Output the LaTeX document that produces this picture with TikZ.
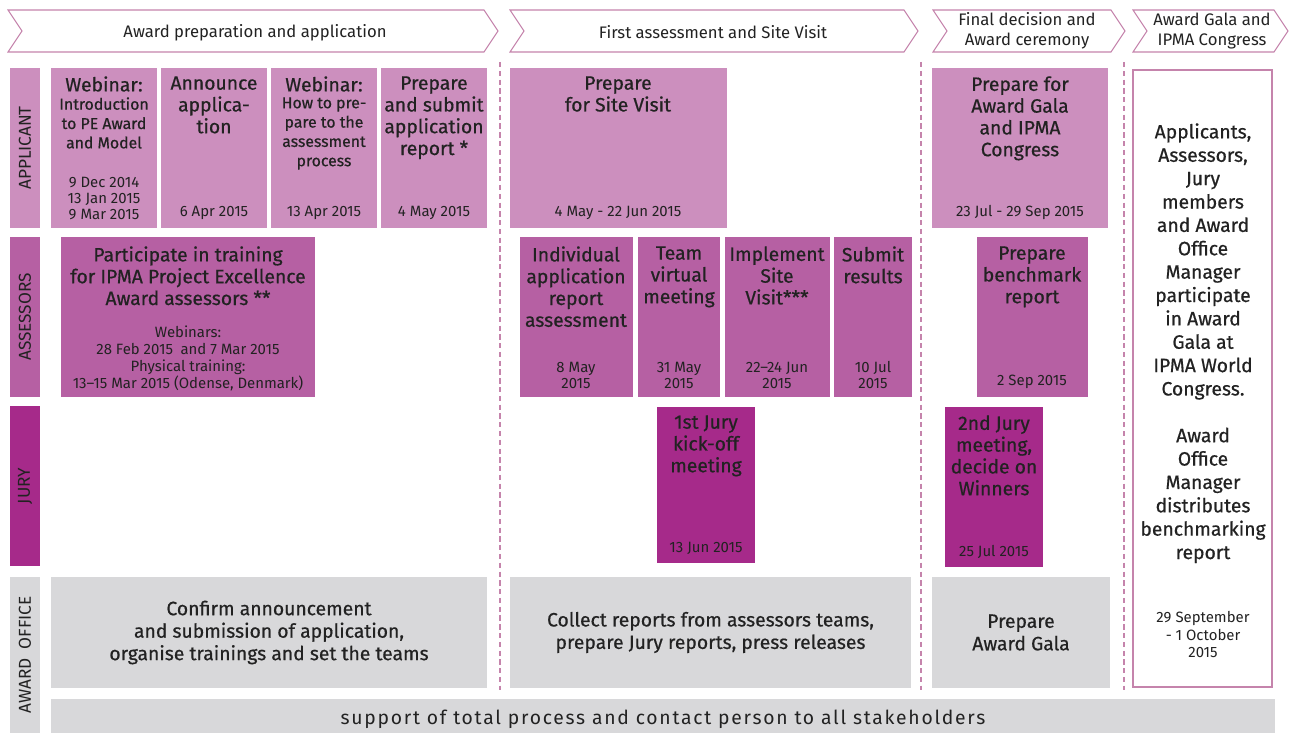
\documentclass[tikz,border=0pt]{standalone}
\usepackage{fontspec}
\setmainfont{Fira Sans}
\newfontfamily\medfont{Fira Sans}[FakeBold=0.6]
\newfontfamily\spacedfont{Fira Sans}[LetterSpace=9]
\definecolor{app}{HTML}{CC8FBE}
\definecolor{ass}{HTML}{B660A3}
\definecolor{jur}{HTML}{A62A8A}
\definecolor{gry}{HTML}{D8D8DA}
\definecolor{lin}{HTML}{C584AC}
\definecolor{txt}{HTML}{222222}
\newcommand\mkbox[6]{\node[pb,fill=#6,minimum width={(#4-#2)*0.02cm},minimum height={(#5-#3)*0.02cm}] (#1) at (#2,#3) {};}
\begin{document}
\begin{tikzpicture}[x=0.02cm,y=-0.02cm,
  pb/.style={anchor=north west,inner sep=0pt,outer sep=0pt,draw=none},
  ttl/.style={anchor=north,align=center,inner sep=0pt,text=txt,font=\medfont\fontsize{11}{12.4}\selectfont},
  sml/.style={anchor=north,align=center,inner sep=0pt,text=txt,font=\medfont\fontsize{9}{11}\selectfont},
  dt/.style={anchor=south,align=center,inner sep=0pt,text=txt,font=\fontsize{8.5}{9}\selectfont},
  rowlbl/.style={rotate=90,inner sep=0pt,text=txt,font=\fontsize{9.8}{11}\selectfont},
  hdr/.style={align=center,inner sep=0pt,text=txt,font=\fontsize{9.5}{11.3}\selectfont},
  chev/.style={draw=lin,line width=0.6pt,fill=white},
  sepline/.style={draw=lin,line width=0.7pt,dash pattern=on 3pt off 2pt},
  off/.style={align=center,inner sep=0pt,text=txt,font=\medfont\fontsize{11}{12.8}\selectfont},
]
\useasboundingbox (0,0) rectangle (1290,733);
% header chevrons
\draw[chev] (8,10) -- (484,10) -- (498,31) -- (484,52) -- (8,52) -- (22,31) -- cycle;
\node[hdr] (h1) at (255,32.5) {Award preparation and application};
\draw[chev] (510,10) -- (904,10) -- (918,31) -- (904,52) -- (510,52) -- (524,31) -- cycle;
\node[hdr] (h2) at (713,32.5) {First assessment and Site Visit};
\draw[chev] (933,10) -- (1111,10) -- (1125,31) -- (1111,52) -- (933,52) -- (947,31) -- cycle;
\node[hdr] (h3) at (1027,31) {Final decision and\\Award ceremony};
\draw[chev] (1133,10) -- (1274,10) -- (1288,31) -- (1274,52) -- (1133,52) -- (1147,31) -- cycle;
\node[hdr] (h4) at (1212,31) {Award Gala and\\IPMA Congress};
% separators
\coordinate (s1t) at (500,62); \coordinate (s1b) at (500,690);
\coordinate (s2t) at (921,62); \coordinate (s2b) at (921,690);
\coordinate (s3t) at (1124,62); \coordinate (s3b) at (1124,690);
\draw[sepline] (s1t) -- (s1b);
\draw[sepline] (s2t) -- (s2b);
\draw[sepline] (s3t) -- (s3b);
% row labels
\mkbox{lapp}{10}{68}{40}{228}{app}
\node[rowlbl] (lappt) at (lapp.center) {APPLICANT};
\mkbox{lass}{10}{237}{40}{397}{ass}
\node[rowlbl] (lasst) at (lass.center) {ASSESSORS};
\mkbox{ljur}{10}{406}{40}{566}{jur}
\node[rowlbl] (ljurt) at (ljur.center) {JURY};
\mkbox{loff}{10}{577}{40}{733}{gry}
\node[rowlbl] (lofft) at (loff.center) {AWARD\enspace OFFICE};
% applicant
\mkbox{b1}{51}{68}{157}{228}{app}
\node[ttl] (b1t) at (104,76) {Webinar:};
\node[sml] (b1s) at (104,97) {Introduction\\to PE Award\\and Model};
\node[dt] (b1d) at (104,220) {9 Dec 2014\\13 Jan 2015\\9 Mar 2015};
\mkbox{b2}{161}{68}{267}{228}{app}
\node[ttl] (b2t) at (214,76) {Announce\\applica-\\tion};
\node[dt] (b2d) at (214,220) {6 Apr 2015};
\mkbox{b3}{271}{68}{377}{228}{app}
\node[ttl] (b3t) at (324,76) {Webinar:};
\node[sml] (b3s) at (324,97) {How to pre-\\pare to the\\assessment\\process};
\node[dt] (b3d) at (324,220) {13 Apr 2015};
\mkbox{b4}{381}{68}{487}{228}{app}
\node[ttl] (b4t) at (434,76) {Prepare\\and submit\\application\\report *};
\node[dt] (b4d) at (434,220) {4 May 2015};
\mkbox{b5}{510}{68}{727}{228}{app}
\node[ttl] (b5t) at (618,76) {Prepare\\for Site Visit};
\node[dt] (b5d) at (618,220) {4 May - 22 Jun 2015};
\mkbox{b6}{932}{68}{1108}{228}{app}
\node[ttl] (b6t) at (1020,76) {Prepare for\\Award Gala\\and IPMA\\Congress};
\node[dt] (b6d) at (1020,220) {23 Jul - 29 Sep 2015};
% assessors
\mkbox{a1}{61}{237}{315}{397}{ass}
\node[ttl] (a1t) at (188,246) {Participate in training\\for IPMA Project Excellence\\Award assessors **};
\node[sml,font=\fontsize{8.5}{9.7}\selectfont] (a1s) at (188,325) {Webinars:\\28 Feb 2015\enspace and 7 Mar 2015\\Physical training:\\13--15 Mar 2015 (Odense, Denmark)};
\mkbox{a2}{520}{237}{633}{397}{ass}
\node[ttl] (a2t) at (576,246) {Individual\\application\\report\\assessment};
\node[dt] (a2d) at (576,389) {8 May\\2015};
\mkbox{a3}{638}{237}{720}{397}{ass}
\node[ttl] (a3t) at (679,246) {Team\\virtual\\meeting};
\node[dt] (a3d) at (679,389) {31 May\\2015};
\mkbox{a4}{725}{237}{830}{397}{ass}
\node[ttl] (a4t) at (777,246) {Implement\\Site\\Visit***};
\node[dt] (a4d) at (777,389) {22--24 Jun\\2015};
\mkbox{a5}{834}{237}{912}{397}{ass}
\node[ttl] (a5t) at (873,246) {Submit\\results};
\node[dt] (a5d) at (873,389) {10 Jul\\2015};
\mkbox{a6}{977}{237}{1088}{397}{ass}
\node[ttl] (a6t) at (1032,246) {Prepare\\benchmark\\report};
\node[dt] (a6d) at (1032,389) {2 Sep 2015};
% jury
\mkbox{j1}{657}{407}{755}{563}{jur}
\node[ttl] (j1t) at (706,415) {1st Jury\\kick-off\\meeting};
\node[dt] (j1d) at (706,555) {13 Jun 2015};
\mkbox{j2}{945}{407}{1043}{567}{jur}
\node[ttl] (j2t) at (994,415) {2nd Jury\\meeting,\\decide on\\Winners};
\node[dt] (j2d) at (994,559) {25 Jul 2015};
% award office
\mkbox{o1}{51}{577}{487}{688}{gry}
\node[off] (o1t) at (o1.center) {Confirm announcement\\and submission of application,\\organise trainings and set the teams};
\mkbox{o2}{510}{577}{911}{688}{gry}
\node[off] (o2t) at (o2.center) {Collect reports from assessors teams,\\prepare Jury reports, press releases};
\mkbox{o3}{932}{577}{1110}{688}{gry}
\node[off] (o3t) at (o3.center) {Prepare\\Award Gala};
\mkbox{o4}{51}{699}{1275}{733}{gry}
\node[off] (o4t) at (663,719) {\spacedfont support of total process and contact person to all stakeholders};
% right column
\node[pb,fill=white,draw=lin,line width=0.8pt,minimum width={139*0.02cm},minimum height={617*0.02cm}] (rb) at (1133,70) {};
\node[anchor=north,align=center,inner sep=0pt,text=txt,font=\medfont\fontsize{11}{13.3}\selectfont] (rbt) at (1203,123) {Applicants,\\Assessors,\\Jury\\members\\and Award\\Office\\Manager\\participate\\in Award\\Gala at\\IPMA World\\Congress.\\[13.3pt]Award\\Office\\Manager\\distributes\\benchmarking\\report};
\node[sml,font=\fontsize{8.5}{10}\selectfont] (rbd) at (1203,611) {29 September\\- 1 October\\2015};
\end{tikzpicture}
\end{document}
